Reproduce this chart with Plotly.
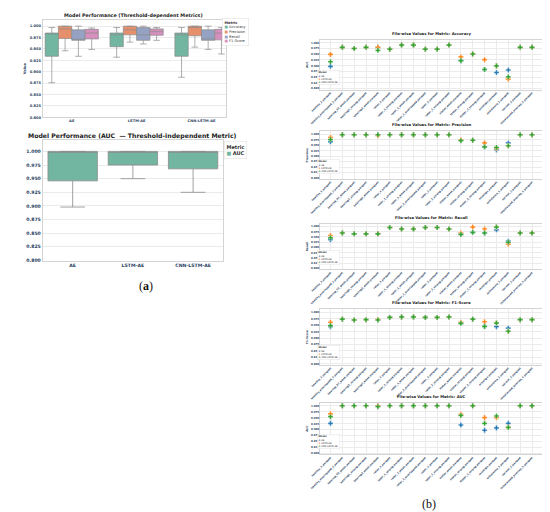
"""
Composite figure: (a) box plots of model performance, (b) file-wise metric values.
"""

import plotly.graph_objects as go

W, H = 550, 512

# ---- (a) box statistics ----
models = ["AE", "LSTM-AE", "CNN-LSTM-AE"]
metrics = ["Accuracy", "Precision", "Recall", "F1-Score"]

# one inner list per metric, one value per model
box_lower = [[0.876, 0.932, 0.888], [0.946, 0.965, 0.954], [0.934, 0.961, 0.949], [0.949, 0.969, 0.939]]
box_q1 = [[0.934, 0.955, 0.934], [0.973, 0.981, 0.979], [0.969, 0.969, 0.969], [0.972, 0.980, 0.970]]
box_median = [[0.984, 0.981, 0.981], [0.994, 0.992, 0.997], [0.970, 0.981, 0.972], [0.985, 0.988, 0.985]]
box_q3 = [[0.985, 0.985, 0.985], [1.000, 1.000, 1.000], [0.992, 0.997, 0.992], [0.993, 0.994, 0.993]]
box_upper = [[0.997, 0.997, 0.997], [1.000, 1.000, 1.000], [1.000, 1.000, 1.000], [0.996, 0.997, 0.997]]

auc_lower = [0.898, 0.950, 0.925]
auc_q1 = [0.946, 0.975, 0.968]
auc_median = [1.000, 1.000, 1.000]
auc_q3 = [1.000, 1.000, 1.000]
auc_upper = [1.000, 1.000, 1.000]

# ---- (b) file-wise values ----
files = [
    "healthy_1.parquet", "healthy_overlapped_2.parquet", "bearing_02_weak.parquet",
    "bearing1_strong.parquet", "bearing2_weak.parquet", "rotor_1.parquet",
    "rotor_1_strong.parquet", "rotor_1_weak.parquet", "rotor_2_overlapped.parquet",
    "rotor_2.parquet", "rotor_2_strong.parquet", "stator_weak.parquet",
    "stator_strong.parquet", "stator_2_strong.parquet", "misalign.parquet",
    "unbalance_1.parquet", "normal_2.parquet", "imbalanced_overlap_1.parquet",
]

acc_ae = [0.897, 0.980, 0.975, 0.980, 0.980, 0.972, 0.990, 0.990, 0.972, 0.972, 0.990, 0.922, 0.951, 0.883, 0.870, 0.881, 0.980, 0.980]
acc_lstm = [0.949, 0.980, 0.975, 0.980, 0.980, 0.972, 0.990, 0.990, 0.972, 0.972, 0.990, 0.938, 0.951, 0.926, 0.899, 0.841, 0.980, 0.980]
acc_cnn = [0.917, 0.980, 0.975, 0.980, 0.967, 0.972, 0.990, 0.990, 0.972, 0.972, 0.990, 0.922, 0.951, 0.883, 0.899, 0.851, 0.980, 0.980]

prec_ae = [0.965, 0.997, 0.997, 0.997, 0.997, 0.997, 0.997, 0.997, 0.997, 0.997, 0.997, 0.972, 0.972, 0.942, 0.928, 0.960, 0.997, 0.997]
prec_lstm = [0.985, 0.997, 0.997, 0.997, 0.993, 0.997, 0.997, 0.997, 0.997, 0.997, 0.997, 0.974, 0.972, 0.960, 0.935, 0.947, 0.997, 0.997]
prec_cnn = [0.975, 0.997, 0.997, 0.997, 0.997, 0.997, 0.997, 0.997, 0.997, 0.997, 0.997, 0.970, 0.972, 0.942, 0.939, 0.947, 0.997, 0.997]

rec_ae = [0.937, 0.969, 0.965, 0.965, 0.965, 0.995, 0.988, 0.988, 0.995, 0.995, 0.988, 0.962, 0.972, 0.969, 0.984, 0.930, 0.969, 0.969]
rec_lstm = [0.957, 0.969, 0.965, 0.965, 0.966, 0.995, 0.988, 0.988, 0.995, 0.995, 0.988, 0.969, 0.997, 0.988, 0.997, 0.916, 0.969, 0.969]
rec_cnn = [0.946, 0.969, 0.965, 0.965, 0.965, 0.995, 0.988, 0.988, 0.995, 0.995, 0.988, 0.962, 0.972, 0.969, 0.997, 0.925, 0.969, 0.969]

f1_ae = [0.945, 0.974, 0.971, 0.972, 0.971, 0.981, 0.983, 0.983, 0.981, 0.981, 0.983, 0.958, 0.974, 0.946, 0.945, 0.939, 0.972, 0.972]
f1_lstm = [0.962, 0.974, 0.971, 0.972, 0.973, 0.981, 0.983, 0.983, 0.981, 0.981, 0.983, 0.962, 0.974, 0.964, 0.959, 0.927, 0.972, 0.972]
f1_cnn = [0.949, 0.974, 0.971, 0.972, 0.971, 0.981, 0.983, 0.983, 0.981, 0.981, 0.983, 0.958, 0.974, 0.946, 0.959, 0.927, 0.972, 0.972]

aucf_ae = [0.926, 1.000, 1.000, 1.000, 1.000, 1.000, 1.000, 1.000, 1.000, 1.000, 1.000, 0.919, 1.000, 0.897, 0.907, 0.926, 1.000, 1.000]
aucf_lstm = [0.966, 1.000, 1.000, 1.000, 1.000, 1.000, 1.000, 1.000, 1.000, 1.000, 1.000, 0.964, 1.000, 0.950, 0.950, 0.909, 1.000, 1.000]
aucf_cnn = [0.954, 1.000, 1.000, 1.000, 0.996, 1.000, 1.000, 1.000, 1.000, 1.000, 1.000, 0.959, 1.000, 0.926, 0.957, 0.909, 1.000, 1.000]

panels = [
    ("Accuracy", "AUC", acc_ae, acc_lstm, acc_cnn),
    ("Precision", "Precision", prec_ae, prec_lstm, prec_cnn),
    ("Recall", "Recall", rec_ae, rec_lstm, rec_cnn),
    ("F1-Score", "F1-Score", f1_ae, f1_lstm, f1_cnn),
    ("AUC", "AUC", aucf_ae, aucf_lstm, aucf_cnn),
]

box_colors = ["#72b6a1", "#e68f6d", "#95a2c3", "#d690be"]
model_colors = ["#1f77b4", "#ff7f0e", "#2ca02c"]
FONT = "DejaVu Sans"
GRID = "#ebebeb"
EDGE = "#d4d4d4"


def px_x(x0, x1):
    return [x0 / W, x1 / W]


def px_y(top, bottom):
    return [1 - bottom / H, 1 - top / H]


fig = go.Figure()

# ---- (a) top: threshold-dependent metrics ----
for i, m in enumerate(metrics):
    fig.add_trace(go.Box(
        x=models, q1=box_q1[i], median=box_median[i], q3=box_q3[i],
        lowerfence=box_lower[i], upperfence=box_upper[i],
        name=m, fillcolor=box_colors[i], line=dict(color="#8a8a8a", width=0.7),
        whiskerwidth=0.5, xaxis="x", yaxis="y", showlegend=False, hoverinfo="skip",
        alignmentgroup="top", offsetgroup=m,
    ))

# ---- (a) bottom: AUC ----
fig.add_trace(go.Box(
    x=models, q1=auc_q1, median=auc_median, q3=auc_q3,
    lowerfence=auc_lower, upperfence=auc_upper,
    name="AUC", fillcolor=box_colors[0], line=dict(color="#8a8a8a", width=0.8),
    whiskerwidth=0.5, xaxis="x2", yaxis="y2", showlegend=False, hoverinfo="skip",
    alignmentgroup="bottom", offsetgroup="auc",
))

# ---- (b) scatter panels ----
right_x = px_x(308, 535)
right_rows = [(32, 82), (124, 172), (217, 263), (303, 359), (397, 449)]
model_names = ["AE", "LSTM-AE", "CNN-LSTM-AE"]

annotations = []
layout_axes = {}

for k, (title, ytitle, ae, lstm, cnn) in enumerate(panels):
    n = k + 3
    xa, ya = f"x{n}", f"y{n}"
    for j, vals in enumerate([ae, lstm, cnn]):
        fig.add_trace(go.Scatter(
            x=files, y=vals, mode="markers", name=model_names[j],
            marker=dict(symbol="cross", size=4.2, color=model_colors[j],
                        line=dict(color="white", width=0.3)),
            xaxis=xa, yaxis=ya, showlegend=False,
        ))
    top, bottom = right_rows[k]
    layout_axes[f"xaxis{n}"] = dict(
        domain=right_x, anchor=ya, range=[-0.85, 17.95], tickangle=-45,
        tickfont=dict(family=FONT, size=2.6, weight="bold"), ticks="",
        showgrid=True, gridcolor=GRID, gridwidth=0.4,
        showline=True, linecolor=EDGE, linewidth=0.5, mirror=True, ticklen=0,
    )
    layout_axes[f"yaxis{n}"] = dict(
        domain=px_y(top, bottom), anchor=xa, range=[0.7955, 1.013],
        tick0=0.8, dtick=0.025, tickformat=".3f",
        tickfont=dict(family=FONT, size=2.6, weight="bold"),
        showgrid=True, gridcolor=GRID, gridwidth=0.4, zeroline=False,
        showline=True, linecolor=EDGE, linewidth=0.5, mirror=True,
        title=dict(text=ytitle, font=dict(family=FONT, size=2.8, weight="bold"), standoff=2),
    )
    annotations.append(dict(
        text=f"<b>File-wise Values for Metric: {title}</b>", xref="paper", yref="paper",
        x=(right_x[0] + right_x[1]) / 2, y=1 - (top - 2) / H, xanchor="center", yanchor="bottom",
        showarrow=False, font=dict(family=FONT, size=3.8, color="#222"),
    ))
    legend_text = "<b>Model</b><br>" + "<br>".join(
        f"<span style='color:{c}'>✚</span> {nm}" for c, nm in zip(model_colors, model_names)
    )
    annotations.append(dict(
        text=legend_text, xref="paper", yref="paper", x=305 / W, y=1 - (bottom - 20) / H,
        xanchor="left", yanchor="top", align="left", showarrow=False,
        font=dict(family=FONT, size=2.4, color="#333"),
        bgcolor="rgba(255,255,255,0.85)", bordercolor="#dddddd", borderwidth=0.4, borderpad=1,
    ))

# ---- (a) titles, legends, labels ----
annotations += [
    dict(text="<b>Model Performance (Threshold-dependent Metrics)</b>", xref="paper", yref="paper",
         x=118 / W, y=1 - 3 / H, xanchor="center", yanchor="top", showarrow=False,
         font=dict(family=FONT, size=4.8, color="#222")),
    dict(text="<b>Model Performance (AUC  — Threshold-independent Metric)</b>", xref="paper", yref="paper",
         x=117 / W, y=1 - 123 / H, xanchor="center", yanchor="top", showarrow=False,
         font=dict(family=FONT, size=6.2, color="#222")),
    dict(text="<b>Metric</b><br>" + "<br>".join(
        f"<span style='color:{c}'>■</span> {m}" for c, m in zip(box_colors, metrics)),
         xref="paper", yref="paper", x=208 / W, y=1 - 10 / H, xanchor="left", yanchor="top",
         align="left", showarrow=False, font=dict(family=FONT, size=3.6, color="#333"),
         bgcolor="white", bordercolor="#dddddd", borderwidth=0.5, borderpad=2),
    dict(text="<b>Metric</b><br>" + f"<span style='color:{box_colors[0]}'>■</span> <b>AUC</b>",
         xref="paper", yref="paper", x=210 / W, y=1 - 134 / H, xanchor="left", yanchor="top",
         align="left", showarrow=False, font=dict(family=FONT, size=5, color="#333"),
         bgcolor="white", bordercolor="#dddddd", borderwidth=0.5, borderpad=2),
    dict(text="(<b>a</b>)", xref="paper", yref="paper", x=130 / W, y=1 - 280 / H,
         xanchor="center", yanchor="middle", showarrow=False,
         font=dict(family="Liberation Serif", size=12, color="#111")),
    dict(text="(b)", xref="paper", yref="paper", x=419 / W, y=1 - 499 / H,
         xanchor="center", yanchor="middle", showarrow=False,
         font=dict(family="Liberation Serif", size=12, color="#111")),
]

fig.update_layout(
    width=W, height=H, margin=dict(l=0, r=0, t=0, b=0),
    paper_bgcolor="white", plot_bgcolor="white",
    boxmode="group", boxgap=0.18, boxgroupgap=0.0,
    xaxis=dict(domain=px_x(25, 212), anchor="y", range=[-0.45, 2.38], ticks="",
               tickfont=dict(family=FONT, size=3.6, weight="bold"),
               showgrid=False, showline=True, linecolor=EDGE, linewidth=0.6, mirror=True),
    yaxis=dict(domain=px_y(12, 110), anchor="x", range=[0.8, 1.0137], tick0=0.8, dtick=0.025,
               tickformat=".3f", tickfont=dict(family=FONT, size=3.6, weight="bold"),
               showgrid=True, gridcolor=GRID, gridwidth=0.5, zeroline=False,
               showline=True, linecolor=EDGE, linewidth=0.6, mirror=True,
               title=dict(text="Value", font=dict(family=FONT, size=3.6, weight="bold"), standoff=3)),
    xaxis2=dict(domain=px_x(25, 209), anchor="y2", range=[-0.5, 2.5], ticks="",
                tickfont=dict(family=FONT, size=4.6, weight="bold"),
                showgrid=False, showline=True, linecolor=EDGE, linewidth=0.6, mirror=True),
    yaxis2=dict(domain=px_y(133, 254), anchor="x2", range=[0.8, 1.0205], tick0=0.8, dtick=0.025,
                tickformat=".3f", tickfont=dict(family=FONT, size=4.6, weight="bold"),
                showgrid=True, gridcolor=GRID, gridwidth=0.5, zeroline=False,
                showline=True, linecolor=EDGE, linewidth=0.6, mirror=True),
    annotations=annotations,
    **layout_axes,
)

fig.write_html("out.html")
